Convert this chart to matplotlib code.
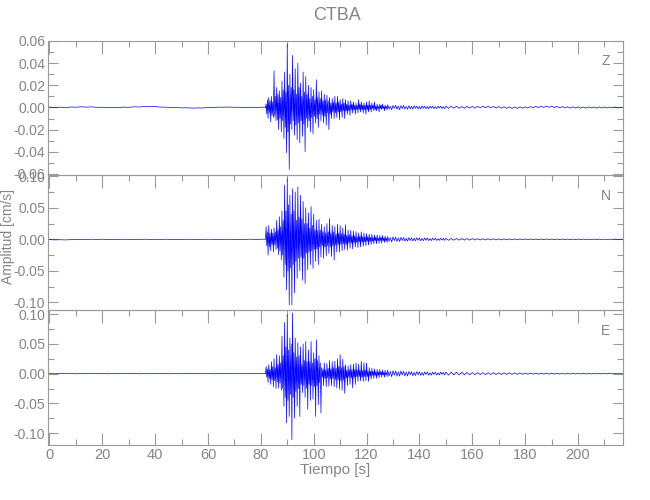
import numpy as np
import matplotlib
matplotlib.use("Agg")
import matplotlib.pyplot as plt
from matplotlib.ticker import MultipleLocator, FixedLocator, FuncFormatter

# ---------------- data ----------------
title = "CTBA"
components = ["Z", "N", "E"]
xlabel = "Tiempo [s]"
ylabel = "Amplitud [cm/s]"

# pre-event noise, every 2 s from 0 to 80 s
z_pre = [0.0003, -0.0002, 0.0003, -0.0003, 0.0004, 0.0002, 0.0006, 0.0003, 0.0005, 0.0001,
         0.0002, -0.0002, 0.0001, -0.0002, 0.0003, 0.0001, 0.0006, 0.0004, 0.0009, 0.0006,
         0.0008, 0.0003, 0.0003, -0.0002, 0.0000, -0.0004, -0.0003, -0.0006, -0.0004, -0.0005,
         -0.0001, 0.0000, 0.0003, 0.0002, 0.0004, 0.0001, 0.0002, -0.0001, 0.0002, -0.0001,
         0.0002]
n_pre = [-0.0004, -0.0008, -0.0006, -0.0009, -0.0005, -0.0003, 0.0001, -0.0002, 0.0002, -0.0001,
         0.0002, -0.0002, 0.0001, -0.0001, 0.0002, -0.0002, 0.0001, -0.0001, 0.0002, -0.0001,
         0.0001, -0.0002, 0.0002, -0.0001, 0.0001, -0.0001, 0.0002, -0.0002, 0.0001, -0.0001,
         0.0002, -0.0001, 0.0001, -0.0002, 0.0002, -0.0001, 0.0001, -0.0001, 0.0003, -0.0002,
         0.0002]
e_pre = [0.0002, -0.0003, 0.0003, -0.0002, 0.0002, -0.0003, 0.0003, -0.0002, 0.0002, -0.0002,
         0.0003, -0.0003, 0.0002, -0.0002, 0.0003, -0.0002, 0.0002, -0.0003, 0.0002, -0.0002,
         0.0003, -0.0002, 0.0002, -0.0003, 0.0002, -0.0002, 0.0003, -0.0002, 0.0002, -0.0002,
         0.0003, -0.0003, 0.0002, -0.0002, 0.0003, -0.0002, 0.0002, -0.0002, 0.0003, -0.0002,
         0.0003]

# strong motion, every 0.25 s from 81.50 to 127.75 s
z_strong = [
    0.0003, -0.0004,
    0.003, -0.006, 0.007, -0.010,   0.009, -0.005, 0.006, -0.013,
    0.010, -0.007, 0.005, -0.009,   0.033, -0.008, 0.010, -0.012,
    0.018, -0.011, 0.012, -0.020,   0.015, -0.010, 0.009, -0.022,
    0.024, -0.012, 0.016, -0.028,   0.032, -0.018, 0.014, -0.041,
    0.057, -0.022, 0.020, -0.056,   0.030, -0.015, 0.018, -0.020,
    0.047, -0.012, 0.016, -0.025,   0.035, -0.016, 0.012, -0.029,
    0.040, -0.014, 0.018, -0.032,   0.022, -0.012, 0.010, -0.026,
    0.032, -0.015, 0.014, -0.040,   0.028, -0.010, 0.012, -0.018,
    0.020, -0.012, 0.008, -0.022,   0.018, -0.009, 0.010, -0.024,
    0.016, -0.008, 0.007, -0.014,   0.025, -0.010, 0.009, -0.018,
    0.014, -0.006, 0.008, -0.012,   0.015, -0.007, 0.006, -0.014,
    0.012, -0.008, 0.007, -0.016,   0.011, -0.005, 0.006, -0.020,
    0.009, -0.006, 0.004, -0.010,   0.008, -0.004, 0.005, -0.010,
    0.010, -0.005, 0.004, -0.009,   0.010, -0.004, 0.005, -0.011,
    0.007, -0.004, 0.003, -0.009,   0.008, -0.003, 0.004, -0.010,
    0.007, -0.003, 0.003, -0.006,   0.006, -0.003, 0.002, -0.007,
    0.006, -0.002, 0.003, -0.005,   0.005, -0.002, 0.002, -0.006,
    0.004, -0.002, 0.002, -0.005,   0.007, -0.002, 0.003, -0.004,
    0.005, -0.002, 0.002, -0.005,   0.004, -0.002, 0.002, -0.006,
    0.005, -0.002, 0.002, -0.004,   0.006, -0.002, 0.002, -0.004,
    0.004, -0.001, 0.002, -0.003,   0.005, -0.002, 0.001, -0.003,
    0.003, -0.001, 0.001, -0.004,   0.003, -0.001, 0.002, -0.002,
    0.003, -0.001, 0.001, -0.003,   0.002, -0.001, 0.001, -0.002]
n_strong = [
    0.0002, -0.0003,
    0.020, -0.010, 0.012, -0.025,   0.022, -0.012, 0.010, -0.018,
    0.016, -0.008, 0.010, -0.020,   0.018, -0.009, 0.012, -0.016,
    0.030, -0.014, 0.015, -0.024,   0.036, -0.018, 0.020, -0.033,
    0.045, -0.025, 0.030, -0.060,   0.086, -0.040, 0.045, -0.080,
    0.096, -0.050, 0.055, -0.104,   0.070, -0.045, 0.040, -0.104,
    0.080, -0.040, 0.045, -0.085,   0.075, -0.035, 0.030, -0.062,
    0.083, -0.030, 0.035, -0.050,   0.070, -0.028, 0.032, -0.065,
    0.060, -0.030, 0.025, -0.070,   0.050, -0.022, 0.025, -0.048,
    0.042, -0.020, 0.018, -0.040,   0.052, -0.018, 0.022, -0.046,
    0.040, -0.016, 0.015, -0.035,   0.030, -0.015, 0.014, -0.040,
    0.032, -0.012, 0.015, -0.028,   0.024, -0.010, 0.012, -0.030,
    0.020, -0.012, 0.010, -0.026,   0.025, -0.010, 0.012, -0.022,
    0.033, -0.012, 0.010, -0.027,   0.022, -0.010, 0.012, -0.033,
    0.020, -0.009, 0.008, -0.020,   0.024, -0.008, 0.010, -0.020,
    0.022, -0.008, 0.009, -0.018,   0.018, -0.007, 0.008, -0.016,
    0.023, -0.008, 0.006, -0.017,   0.015, -0.006, 0.007, -0.014,
    0.014, -0.006, 0.005, -0.015,   0.013, -0.005, 0.006, -0.012,
    0.012, -0.005, 0.004, -0.013,   0.010, -0.004, 0.005, -0.012,
    0.012, -0.004, 0.004, -0.011,   0.010, -0.004, 0.004, -0.010,
    0.009, -0.003, 0.004, -0.009,   0.008, -0.003, 0.003, -0.008,
    0.008, -0.003, 0.003, -0.007,   0.007, -0.002, 0.003, -0.007,
    0.007, -0.002, 0.002, -0.006,   0.006, -0.002, 0.003, -0.006,
    0.006, -0.002, 0.002, -0.005,   0.005, -0.002, 0.002, -0.005]
e_strong = [
    0.0003, -0.0002,
    0.012, -0.006, 0.008, -0.015,   0.015, -0.008, 0.007, -0.018,
    0.020, -0.010, 0.012, -0.022,   0.025, -0.012, 0.010, -0.025,
    0.032, -0.014, 0.015, -0.024,   0.030, -0.016, 0.018, -0.028,
    0.063, -0.025, 0.030, -0.055,   0.086, -0.040, 0.045, -0.083,
    0.099, -0.045, 0.040, -0.072,   0.060, -0.035, 0.050, -0.111,
    0.102, -0.040, 0.035, -0.075,   0.060, -0.030, 0.028, -0.055,
    0.052, -0.025, 0.030, -0.072,   0.045, -0.018, 0.015, -0.032,
    0.050, -0.020, 0.022, -0.040,   0.054, -0.025, 0.020, -0.060,
    0.040, -0.018, 0.020, -0.045,   0.054, -0.020, 0.018, -0.043,
    0.035, -0.022, 0.025, -0.072,   0.057, -0.020, 0.022, -0.052,
    0.030, -0.015, 0.018, -0.066,   0.010, -0.006, 0.008, -0.020,
    0.018, -0.008, 0.006, -0.022,   0.017, -0.007, 0.009, -0.021,
    0.022, -0.009, 0.008, -0.020,   0.020, -0.008, 0.010, -0.022,
    0.021, -0.010, 0.009, -0.024,   0.025, -0.010, 0.012, -0.026,
    0.032, -0.012, 0.010, -0.028,   0.024, -0.011, 0.012, -0.033,
    0.015, -0.007, 0.006, -0.020,   0.013, -0.006, 0.007, -0.018,
    0.015, -0.007, 0.006, -0.024,   0.016, -0.006, 0.007, -0.018,
    0.018, -0.005, 0.006, -0.013,   0.016, -0.005, 0.005, -0.012,
    0.021, -0.006, 0.005, -0.013,   0.018, -0.005, 0.006, -0.012,
    0.018, -0.005, 0.004, -0.013,   0.010, -0.004, 0.004, -0.009,
    0.009, -0.003, 0.004, -0.008,   0.008, -0.003, 0.003, -0.008,
    0.007, -0.003, 0.003, -0.007,   0.007, -0.002, 0.003, -0.006,
    0.006, -0.002, 0.002, -0.006,   0.006, -0.002, 0.002, -0.005]

# early coda, every 0.5 s from 128.0 to 149.5 s
z_coda1 = [0.0025, -0.0015, 0.0010, -0.0022, 0.0018, -0.0008, 0.0020, -0.0016, 0.0012, -0.0020,
           0.0016, -0.0010, 0.0018, -0.0014, 0.0008, -0.0016, 0.0015, -0.0012, 0.0010, -0.0015,
           0.0014, -0.0008, 0.0012, -0.0013, 0.0009, -0.0012, 0.0013, -0.0007, 0.0011, -0.0012,
           0.0008, -0.0011, 0.0012, -0.0006, 0.0010, -0.0011, 0.0007, -0.0010, 0.0011, -0.0006,
           0.0010, -0.0009, 0.0007, -0.0010]
n_coda1 = [0.0045, -0.0030, 0.0025, -0.0042, 0.0038, -0.0020, 0.0036, -0.0034, 0.0022, -0.0035,
           0.0032, -0.0018, 0.0030, -0.0028, 0.0016, -0.0028, 0.0027, -0.0020, 0.0024, -0.0026,
           0.0018, -0.0024, 0.0025, -0.0015, 0.0022, -0.0022, 0.0014, -0.0021, 0.0022, -0.0016,
           0.0020, -0.0019, 0.0012, -0.0019, 0.0019, -0.0013, 0.0018, -0.0017, 0.0011, -0.0017,
           0.0017, -0.0012, 0.0016, -0.0016]
e_coda1 = [0.0060, -0.0040, 0.0035, -0.0052, 0.0048, -0.0025, 0.0045, -0.0044, 0.0030, -0.0042,
           0.0045, -0.0022, 0.0040, -0.0038, 0.0025, -0.0040, 0.0036, -0.0020, 0.0034, -0.0035,
           0.0022, -0.0032, 0.0034, -0.0018, 0.0030, -0.0030, 0.0020, -0.0028, 0.0030, -0.0016,
           0.0027, -0.0027, 0.0016, -0.0025, 0.0026, -0.0015, 0.0025, -0.0024, 0.0014, -0.0023,
           0.0024, -0.0013, 0.0022, -0.0022]

# late coda, every 1 s from 150 to 217 s
z_coda2 = [0.0010,
           -0.0008, 0.0011, -0.0007, 0.0010, -0.0007, 0.0009, -0.0008, 0.0010, -0.0006, 0.0009,
           -0.0006, 0.0010, -0.0004, 0.0011, -0.0003, 0.0012, -0.0004, 0.0010, -0.0005, 0.0008,
           -0.0007, 0.0006, -0.0008, 0.0005, -0.0009, 0.0004, -0.0008, 0.0005, -0.0007, 0.0006,
           -0.0005, 0.0008, -0.0003, 0.0010, -0.0002, 0.0012, 0.0000, 0.0013, 0.0001, 0.0012,
           -0.0001, 0.0010, -0.0003, 0.0008, -0.0004, 0.0006, -0.0005, 0.0005, -0.0006, 0.0005,
           -0.0006, 0.0004, -0.0006, 0.0005, -0.0005, 0.0004, -0.0006, 0.0005, -0.0005, 0.0004,
           -0.0005, 0.0004, -0.0004, 0.0004, -0.0004, 0.0003, -0.0003]
n_coda2 = [0.0016,
           -0.0015, 0.0014, -0.0014, 0.0014, -0.0013, 0.0013, -0.0012, 0.0012, -0.0012, 0.0011,
           -0.0011, 0.0011, -0.001, 0.001, -0.001, 0.0009, -0.0009, 0.0009, -0.0009, 0.0008,
           -0.0008, 0.0008, -0.0008, 0.0008, -0.0007, 0.0007, -0.0007, 0.0007, -0.0007, 0.0007,
           -0.0006, 0.0006, -0.0006, 0.0006, -0.0006, 0.0006, -0.0006, 0.0006, -0.0005, 0.0005,
           -0.0005, 0.0005, -0.0005, 0.0005, -0.0005, 0.0005, -0.0005, 0.0005, -0.0005, 0.0005,
           -0.0005, 0.0004, -0.0004, 0.0004, -0.0004, 0.0004, -0.0004, 0.0004, -0.0004, 0.0004,
           -0.0004, 0.0004, -0.0004, 0.0004, -0.0004, 0.0004, -0.0004]
e_coda2 = [0.0025,
           -0.0025, 0.0025, -0.0022, 0.0025, -0.0022, 0.0022, -0.002, 0.002, -0.002, 0.0018,
           -0.0018, 0.0018, -0.0016, 0.0016, -0.0016, 0.0015, -0.0015, 0.0015, -0.0014, 0.0014,
           -0.0014, 0.0013, -0.0013, 0.0013, -0.0012, 0.0012, -0.0012, 0.0012, -0.0011, 0.0011,
           -0.0011, 0.001, -0.001, 0.001, -0.001, 0.001, -0.0009, 0.0009, -0.0009, 0.0009,
           -0.0008, 0.0008, -0.0008, 0.0008, -0.0008, 0.0008, -0.0007, 0.0007, -0.0007, 0.0007,
           -0.0006, 0.0006, -0.0006, 0.0006, -0.0006, 0.0005, -0.0005, 0.0005, -0.0005, 0.0005,
           -0.0005, 0.0005, -0.0004, 0.0004, -0.0004, 0.0004, -0.0004]

x_ticks = [0, 20, 40, 60, 80, 100, 120, 140, 160, 180, 200]
y_ticks = [[-0.06, -0.04, -0.02, 0.00, 0.02, 0.04, 0.06],
           [-0.10, -0.05, 0.00, 0.05, 0.10],
           [-0.10, -0.05, 0.00, 0.05, 0.10]]
y_limits = [(-0.061, 0.060), (-0.112, 0.102), (-0.120, 0.107)]
y_minor = [0.01, 0.025, 0.025]

# ---------------- drawing ----------------
plt.rcParams["font.family"] = ["Liberation Sans", "DejaVu Sans"]

gray = "#858585"
frame = "#9a9a9a"

def build(pre, strong, coda1, coda2):
    t_pre = 0.0 + 2.0 * np.arange(len(pre))
    t_str = 81.5 + 0.25 * np.arange(len(strong))
    t_c1 = 128.0 + 0.5 * np.arange(len(coda1))
    t_c2 = 150.0 + 1.0 * np.arange(len(coda2))
    return (np.concatenate([t_pre, t_str, t_c1, t_c2]),
            np.concatenate([pre, strong, coda1, coda2]))

traces = [build(z_pre, z_strong, z_coda1, z_coda2),
          build(n_pre, n_strong, n_coda1, n_coda2),
          build(e_pre, e_strong, e_coda1, e_coda2)]

fig = plt.figure(figsize=(6.5, 5.0), dpi=100)
left, right = 48 / 650, 623 / 650
edges_px = [41, 175, 310, 445]

fmt = FuncFormatter(lambda y, p: ("-" if y < -1e-9 else "") + f"{abs(y):.2f}")

for i in range(3):
    top = 1 - edges_px[i] / 500
    bot = 1 - edges_px[i + 1] / 500
    ax = fig.add_axes([left, bot, right - left, top - bot])
    t, v = traces[i]
    ax.plot(t, v, color="#0000ff", lw=0.5, antialiased=True)
    ax.set_xlim(-0.5, 217)
    ax.set_ylim(*y_limits[i])
    ax.xaxis.set_major_locator(FixedLocator(x_ticks))
    ax.xaxis.set_minor_locator(MultipleLocator(10))
    ax.yaxis.set_major_locator(FixedLocator(y_ticks[i]))
    ax.yaxis.set_minor_locator(MultipleLocator(y_minor[i]))
    ax.yaxis.set_major_formatter(fmt)
    for s in ax.spines.values():
        s.set_color(frame)
        s.set_linewidth(0.8)
    last = (i == 2)
    ax.tick_params(axis="x", which="both", direction="in", top=True, bottom=last,
                   labelbottom=last, color=frame, labelcolor=gray, labelsize=10.5, pad=2)
    ax.tick_params(axis="x", which="major", length=9, width=0.8)
    ax.tick_params(axis="x", which="minor", length=4.5, width=0.8)
    ax.tick_params(axis="y", which="both", direction="in", left=True, right=True,
                   color=frame, labelcolor=gray, labelsize=10, pad=2)
    ax.tick_params(axis="y", which="major", length=7, width=0.8)
    ax.tick_params(axis="y", which="minor", length=4, width=0.8)
    ax.set_facecolor("none")
    if last:
        ax.set_xlabel(xlabel, color=gray, fontsize=11, labelpad=1)

label_y = [61, 196, 331]
for c, yp in zip(components, label_y):
    fig.text(606 / 650, 1 - yp / 500, c, color=gray, fontsize=10, ha="center", va="center")

fig.text(337 / 650, 1 - 16 / 500, title, color=gray, fontsize=13, ha="center", va="center")
fig.text(8 / 650, 1 - 236 / 500, ylabel, color=gray, fontsize=10, ha="center", va="center",
         rotation=90)

fig.savefig("out.png", dpi=100, facecolor="white")
